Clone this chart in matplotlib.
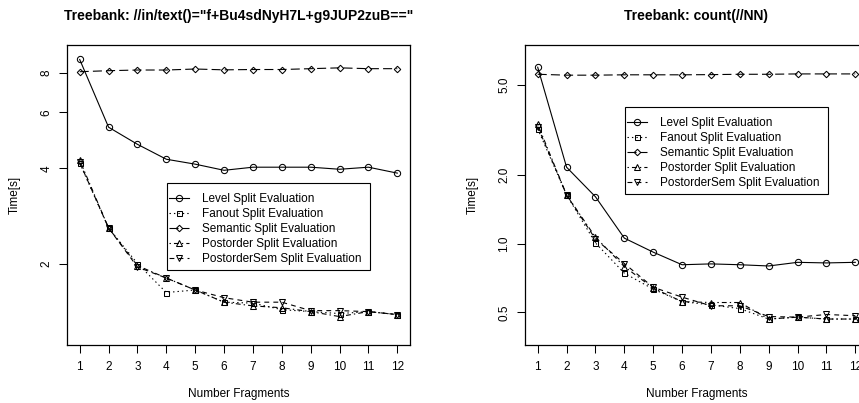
import matplotlib
matplotlib.use('Agg')
import matplotlib.pyplot as plt
from matplotlib.patches import Rectangle
from matplotlib.ticker import FixedLocator, NullLocator, FixedFormatter

plt.rcParams['font.family'] = ['Liberation Sans', 'DejaVu Sans']
plt.rcParams['lines.scale_dashes'] = False

# ---------------- data ----------------
fragments = list(range(1, 13))
series_names = ["Level Split Evaluation", "Fanout Split Evaluation",
                "Semantic Split Evaluation", "Postorder Split Evaluation",
                "PostorderSem Split Evaluation"]

left_title = 'Treebank: //in/text()="f+Bu4sdNyH7L+g9JUP2zuB=="'
left_level = [8.82, 5.39, 4.76, 4.27, 4.12, 3.94, 4.03, 4.03, 4.03, 3.97, 4.03, 3.86]
left_fanout = [4.15, 2.59, 2.00, 1.62, 1.65, 1.51, 1.50, 1.43, 1.41, 1.39, 1.41, 1.38]
left_semantic = [8.07, 8.13, 8.17, 8.17, 8.23, 8.18, 8.20, 8.20, 8.25, 8.30, 8.25, 8.25]
left_postorder = [4.24, 2.59, 1.97, 1.80, 1.65, 1.51, 1.47, 1.45, 1.41, 1.36, 1.41, 1.38]
left_postordersem = [4.17, 2.59, 1.95, 1.80, 1.65, 1.56, 1.51, 1.51, 1.42, 1.42, 1.41, 1.38]
left_yticks = [2, 4, 6, 8]
left_yticklabels = ["2", "4", "6", "8"]

right_title = 'Treebank: count(//NN)'
right_level = [5.96, 2.17, 1.61, 1.06, 0.92, 0.81, 0.817, 0.81, 0.80, 0.83, 0.825, 0.83]
right_fanout = [3.20, 1.64, 1.01, 0.744, 0.633, 0.558, 0.54, 0.52, 0.468, 0.477, 0.468, 0.468]
right_semantic = [5.55, 5.50, 5.50, 5.52, 5.52, 5.52, 5.53, 5.55, 5.55, 5.57, 5.57, 5.57]
right_postorder = [3.35, 1.64, 1.07, 0.795, 0.64, 0.558, 0.553, 0.553, 0.468, 0.477, 0.468, 0.468]
right_postordersem = [3.27, 1.64, 1.05, 0.82, 0.645, 0.584, 0.535, 0.535, 0.48, 0.477, 0.49, 0.484]
right_yticks = [0.5, 1.0, 2.0, 5.0]
right_yticklabels = ["0.5", "1.0", "2.0", "5.0"]

x_label = "Number Fragments"
y_label = "Time[s]"

# ---------------- styles ----------------
styles = [
    dict(marker='o', ms=4.5, ls='-'),
    dict(marker='s', ms=3.6, ls=(0, (1, 2.2))),
    dict(marker='D', ms=3.3, ls=(0, (6.5, 3))),
    dict(marker='^', ms=4.8, ls=(0, (1, 2.2, 3.5, 2.2))),
    dict(marker='v', ms=4.8, ls=(0, (3.5, 3))),
]

W, H = 859, 403
FS = 8.5
fig = plt.figure(figsize=(W / 100, H / 100), dpi=100)

def make_panel(left_px, title, series, ylim, yticks, yticklabels, legend_box):
    ax = fig.add_axes([left_px / W, (H - 345) / H, 343 / W, 300 / H])
    ax.set_yscale('log')
    for name, vals, st in zip(series_names, series, styles):
        ax.plot(fragments, vals, color='black', lw=0.8, ls=st['ls'],
                marker=st['marker'], ms=st['ms'], mfc='none', mec='black',
                mew=0.75, label=name)
    ax.set_xlim(0.56, 12.44)
    ax.set_ylim(*ylim)
    ax.xaxis.set_major_locator(FixedLocator(fragments))
    ax.yaxis.set_major_locator(FixedLocator(yticks))
    ax.yaxis.set_major_formatter(FixedFormatter(yticklabels))
    ax.yaxis.set_minor_locator(NullLocator())
    ax.xaxis.set_minor_locator(NullLocator())
    ax.tick_params(axis='both', direction='out', length=5.5, width=0.75,
                   labelsize=FS, color='black')
    ax.tick_params(axis='x', pad=6)
    ax.tick_params(axis='y', pad=5, labelrotation=90)
    for lab in ax.get_yticklabels():
        lab.set_va('center')
    for sp in ax.spines.values():
        sp.set_linewidth(0.9)
    ax.set_title(title, fontsize=10, fontweight='bold', pad=18)
    ax.set_xlabel(x_label, fontsize=FS)
    ax.set_ylabel(y_label, fontsize=FS)
    ax.xaxis.set_label_coords(0.5, -0.145)
    ax.yaxis.set_label_coords(-0.135, 0.5)

    # legend frame (pixel box) and content
    x0, y0, x1, y1 = legend_box
    frame = Rectangle((x0 / W, 1 - y1 / H), (x1 - x0) / W, (y1 - y0) / H,
                      transform=fig.transFigure, facecolor='white',
                      edgecolor='black', lw=0.8, clip_on=False, zorder=4)
    ax.add_patch(frame)
    leg = ax.legend(loc='upper left',
                    bbox_to_anchor=((x0 + 2) / W, 1 - (y0 + 10) / H),
                    bbox_transform=fig.transFigure, borderaxespad=0,
                    fontsize=FS, frameon=False,
                    handlelength=1.7, handletextpad=1.1, labelspacing=0.26,
                    borderpad=0, numpoints=1)
    leg.set_zorder(5)
    return ax

make_panel(67, left_title,
           [left_level, left_fanout, left_semantic, left_postorder, left_postordersem],
           (1.106, 9.8), left_yticks, left_yticklabels, (167, 183, 370, 270))
make_panel(525, right_title,
           [right_level, right_fanout, right_semantic, right_postorder, right_postordersem],
           (0.36, 7.46), right_yticks, right_yticklabels, (625, 107, 828, 194))

fig.savefig('out.png', dpi=100)
